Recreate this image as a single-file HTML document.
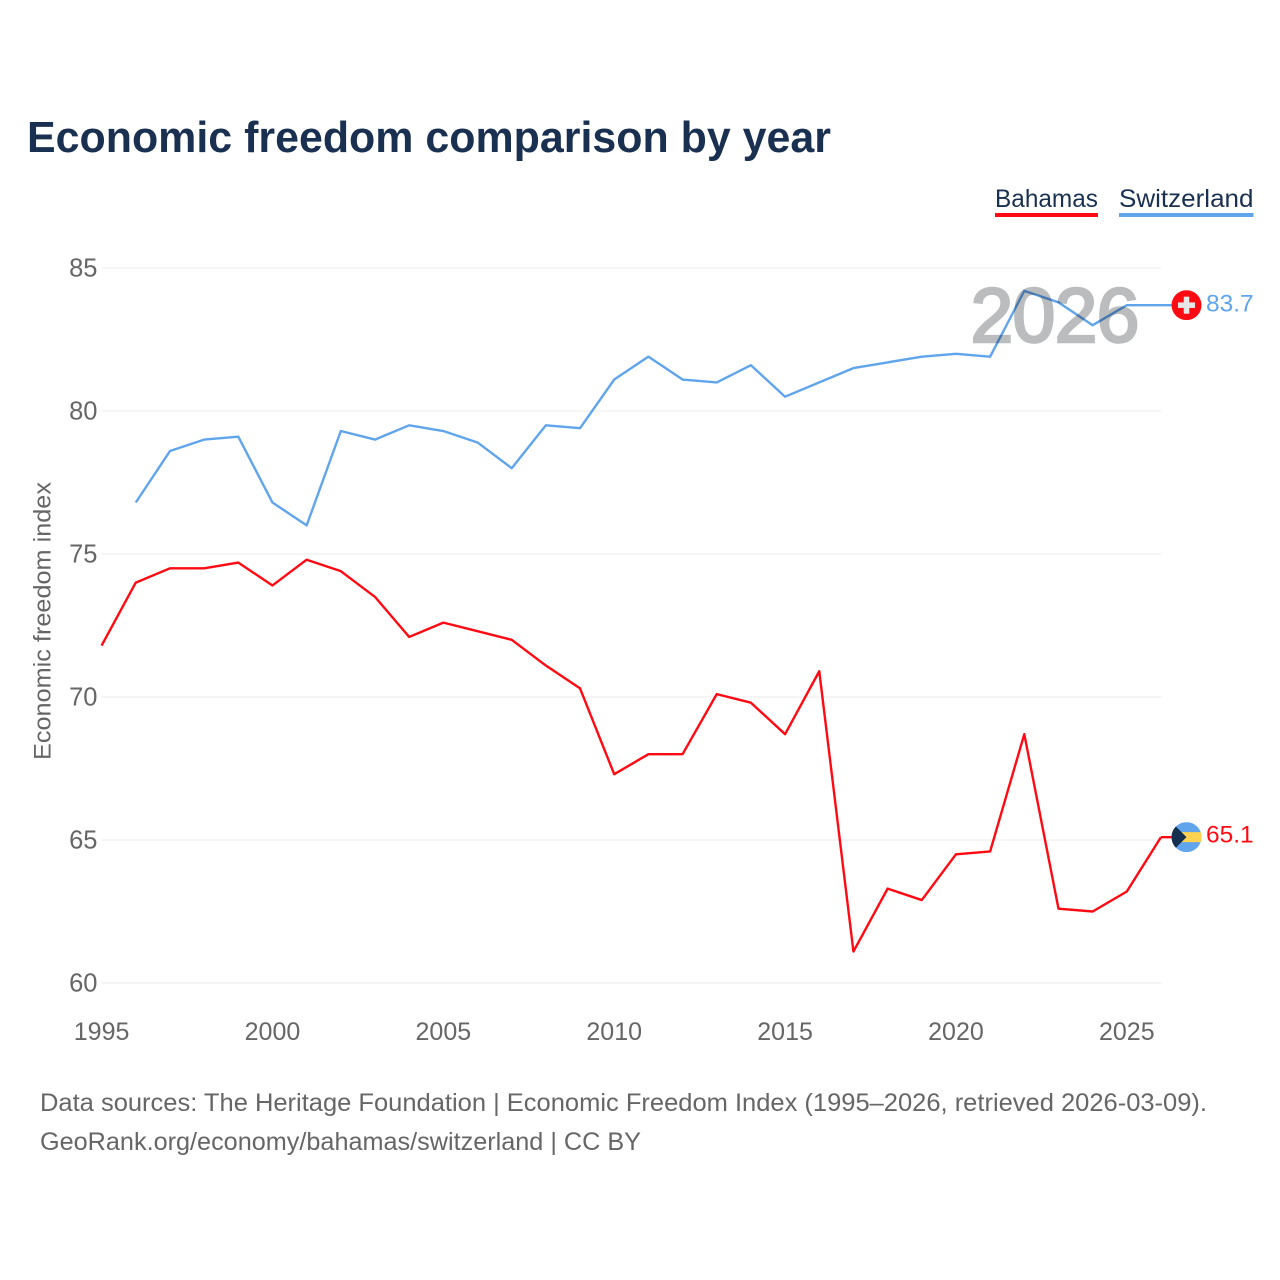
<!DOCTYPE html>
<html lang="en">
<head>
<meta charset="utf-8">
<title>Economic freedom comparison by year</title>
<style>
  html, body { margin: 0; padding: 0; background: #fff; }
  svg { display: block; font-family: "Liberation Sans", "DejaVu Sans", sans-serif; }
</style>
</head>
<body>
<svg id="chart" xmlns="http://www.w3.org/2000/svg" width="1280" height="1280" viewBox="0 0 1280 1280">
  <rect width="1280" height="1280" fill="#ffffff"/>
  <text x="27" y="152" font-size="44" font-weight="700" fill="#1a3050" textLength="804" lengthAdjust="spacingAndGlyphs">Economic freedom comparison by year</text>

  <g>
    <g>
      <text x="995" y="207" font-size="25" fill="#1a3050" textLength="103" lengthAdjust="spacingAndGlyphs">Bahamas</text>
      <rect x="995" y="213" width="103" height="4" fill="#ff0a12"/>
    </g>
    <g>
      <text x="1119" y="207" font-size="25" fill="#1a3050" textLength="134.5" lengthAdjust="spacingAndGlyphs">Switzerland</text>
      <rect x="1119" y="213" width="134.5" height="4" fill="#60a5ec"/>
    </g>
  </g>

  <g id="grid"></g>
  <g id="yticks"></g>
  <g id="xticks"></g>
  <text transform="translate(50.5 760) rotate(-90)" font-size="24" fill="#666666" textLength="278" lengthAdjust="spacingAndGlyphs">Economic freedom index</text>

  <g id="series"></g>

  <text id="yearLabel" x="1055" y="342" text-anchor="middle" font-size="77" font-weight="400" fill="#bbbcbe" stroke="#bbbcbe" stroke-width="2.6" style="mix-blend-mode:multiply" textLength="169" lengthAdjust="spacing"></text>

  <defs>
    <clipPath id="flagClipCh"><circle id="clipCh" cx="1186.5" cy="305" r="15"/></clipPath>
    <clipPath id="flagClipBs"><circle id="clipBs" cx="1186.5" cy="837" r="15"/></clipPath>
  </defs>
  <g id="flags"></g>
  <g id="endLabels"></g>

  <g>
    <text x="40" y="1111" font-size="25" fill="#666666" textLength="1167" lengthAdjust="spacingAndGlyphs">Data sources: The Heritage Foundation | Economic Freedom Index (1995–2026, retrieved 2026-03-09).</text>
    <text x="40" y="1150" font-size="25" fill="#666666" textLength="601" lengthAdjust="spacingAndGlyphs">GeoRank.org/economy/bahamas/switzerland | CC BY</text>
  </g>
</svg>
<script>
const years = [1995,1996,1997,1998,1999,2000,2001,2002,2003,2004,2005,2006,2007,2008,2009,2010,2011,2012,2013,2014,2015,2016,2017,2018,2019,2020,2021,2022,2023,2024,2025,2026];
const bahamas = [71.8,74.0,74.5,74.5,74.7,73.9,74.8,74.4,73.5,72.1,72.6,72.3,72.0,71.1,70.3,67.3,68.0,68.0,70.1,69.8,68.7,70.9,61.1,63.3,62.9,64.5,64.6,68.7,62.6,62.5,63.2,65.1];
const switzerland = [null,76.8,78.6,79.0,79.1,76.8,76.0,79.3,79.0,79.5,79.3,78.9,78.0,79.5,79.4,81.1,81.9,81.1,81.0,81.6,80.5,81.0,81.5,81.7,81.9,82.0,81.9,84.2,83.8,83.0,83.7,83.7];
const yTickValues = [60,65,70,75,80,85];
const xTickValues = [1995,2000,2005,2010,2015,2020,2025];
const currentYear = 2026;

const NS = 'http://www.w3.org/2000/svg';
const plotLeft = 101.6, plotRight = 1161, plotTop = 268, plotBottom = 983;
function xScale(year) {
  return plotLeft + (year - 1995) * (plotRight - plotLeft) / (2026 - 1995);
}
function yScale(value) {
  return plotBottom - (value - 60) * (plotBottom - plotTop) / (85 - 60);
}
function make(tag, attrs, parent) {
  const el = document.createElementNS(NS, tag);
  for (const k in attrs) el.setAttribute(k, attrs[k]);
  parent.appendChild(el);
  return el;
}
const grid = document.getElementById('grid');
const yticks = document.getElementById('yticks');
const xticks = document.getElementById('xticks');
const seriesGroup = document.getElementById('series');
const flags = document.getElementById('flags');
const endLabels = document.getElementById('endLabels');

yTickValues.forEach(function (v) {
  const line = make('line', {x1: plotLeft, x2: plotRight, y1: yScale(v), y2: yScale(v), stroke: '#ebebeb', 'stroke-width': 1, 'shape-rendering': 'crispEdges'}, grid);
  
  
  const t = make('text', {x: 97.5, y: yScale(v) + 8.5, 'text-anchor': 'end', 'font-size': 25.5, fill: '#666666'}, yticks);
  t.textContent = v;
  
  
});

xTickValues.forEach(function (v) {
  const t = make('text', {x: xScale(v), y: 1040, 'text-anchor': 'middle', 'font-size': 25, fill: '#666666'}, xticks);
  t.textContent = v;
  
  
});

function pathFor(values) {
  let d = '';
  values.forEach(function (v, i) {
    if (v === null) return;
    d += (d ? 'L' : 'M') + xScale(years[i]).toFixed(2) + ' ' + yScale(v).toFixed(2);
  });
  return d;
}
function lastOf(values) {
  return values[values.length - 1];
}

const lineB = make('path', {d: pathFor(bahamas), fill: 'none', stroke: '#ff0a12', 'stroke-width': 2.4, 'stroke-linejoin': 'round'}, seriesGroup);


const lineS = make('path', {d: pathFor(switzerland), fill: 'none', stroke: '#60a5ec', 'stroke-width': 2.4, 'stroke-linejoin': 'round'}, seriesGroup);



const yBEnd = yScale(lastOf(bahamas));
const ySEnd = yScale(lastOf(switzerland));
const flagX = 1186.5;

const connB = make('line', {x1: plotRight, x2: flagX, y1: yBEnd, y2: yBEnd, stroke: '#ff0a12', 'stroke-width': 2.4}, seriesGroup);


const connS = make('line', {x1: plotRight, x2: flagX, y1: ySEnd, y2: ySEnd, stroke: '#60a5ec', 'stroke-width': 2.4}, seriesGroup);



document.getElementById('yearLabel').textContent = currentYear;

/* Switzerland flag */
document.getElementById('clipCh').setAttribute('cy', ySEnd);
const ch = make('g', {'clip-path': 'url(#flagClipCh)'}, flags);


make('rect', {x: flagX - 15, y: ySEnd - 15, width: 30, height: 30, fill: '#ff0a12'}, ch);
make('rect', {x: flagX - 8.5, y: ySEnd - 2.75, width: 17, height: 5.5, fill: '#e6e6e6'}, ch);
make('rect', {x: flagX - 2.75, y: ySEnd - 8.5, width: 5.5, height: 17, fill: '#e6e6e6'}, ch);

/* Bahamas flag */
document.getElementById('clipBs').setAttribute('cy', yBEnd);
const bs = make('g', {'clip-path': 'url(#flagClipBs)'}, flags);


make('rect', {x: flagX - 15, y: yBEnd - 15, width: 30, height: 30, fill: '#60a5ec'}, bs);
make('rect', {x: flagX - 15, y: yBEnd - 5, width: 30, height: 10, fill: '#ffd24f'}, bs);
make('polygon', {points: (flagX - 15) + ',' + (yBEnd - 15) + ' ' + flagX + ',' + yBEnd + ' ' + (flagX - 15) + ',' + (yBEnd + 15), fill: '#15304f'}, bs);

const labS = make('text', {x: 1206, y: ySEnd + 6.5, 'font-size': 24.5, fill: '#60a5ec'}, endLabels);
labS.textContent = lastOf(switzerland).toFixed(1);


const labB = make('text', {x: 1206, y: yBEnd + 5.5, 'font-size': 24.5, fill: '#ff0a12'}, endLabels);
labB.textContent = lastOf(bahamas).toFixed(1);


</script>
</body>
</html>
